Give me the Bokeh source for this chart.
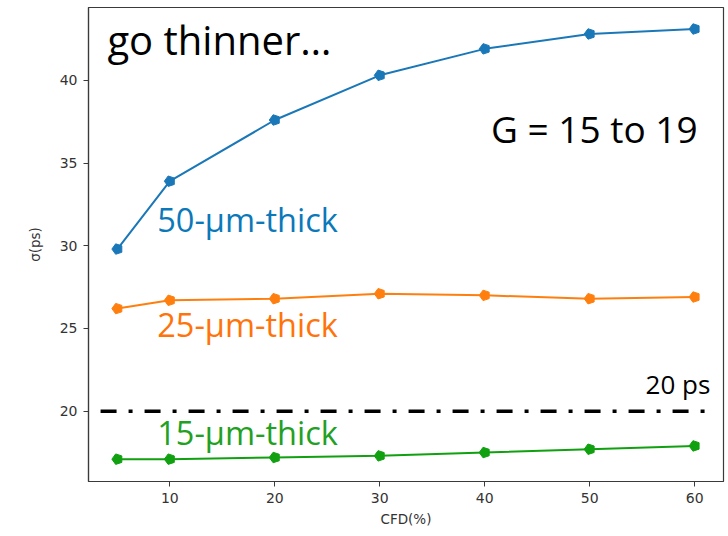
from bokeh.plotting import figure
from bokeh.embed import file_html
from bokeh.resources import INLINE
from bokeh.models import Range1d, FixedTicker
from bokeh.core.properties import value
import math

cfd = [5, 10, 20, 30, 40, 50, 60]
sigma_50um = [29.8, 33.9, 37.6, 40.3, 41.9, 42.8, 43.1]
sigma_25um = [26.2, 26.7, 26.8, 27.1, 27.0, 26.8, 26.9]
sigma_15um = [17.1, 17.1, 17.2, 17.3, 17.5, 17.7, 17.9]
x_ticks = [10, 20, 30, 40, 50, 60]
y_ticks = [20, 25, 30, 35, 40]
ref_level = 20
ref_span = [3.4, 61.5]

line_colors = ["#1a78b8", "#ff7f0e", "#10a010"]
text_colors = ["#0b78b9", "#ff740a", "#22a022"]

p = figure(width=728, height=536, output_backend="svg", toolbar_location=None,
           x_range=Range1d(2.25, 62.75), y_range=Range1d(15.75, 44.4),
           min_border_left=88, min_border_right=5, min_border_top=7, min_border_bottom=55)
p.background_fill_color = "white"
p.border_fill_color = "white"
p.grid.visible = False
p.outline_line_color = "#3a3a3a"
p.outline_line_width = 1.2

for ax in (p.xaxis, p.yaxis):
    ax.axis_line_color = "#3a3a3a"
    ax.axis_line_width = 1.2
    ax.major_tick_line_color = "#3a3a3a"
    ax.major_tick_out = 5
    ax.major_tick_in = 0
    ax.minor_tick_line_color = None
    ax.major_label_text_font = "DejaVu Sans"
    ax.major_label_text_font_size = "14px"
    ax.major_label_text_color = "#333333"
    ax.axis_label_text_font = "DejaVu Sans"
    ax.axis_label_text_font_size = "13.5px"
    ax.axis_label_text_font_style = "normal"
    ax.axis_label_text_color = "#333333"
p.xaxis.ticker = FixedTicker(ticks=x_ticks)
p.yaxis.ticker = FixedTicker(ticks=y_ticks)
p.xaxis.axis_label = "CFD(%)"
p.yaxis.axis_label = "σ(ps)"
p.xaxis.major_label_standoff = 6
p.yaxis.major_label_standoff = 6
p.xaxis.axis_label_standoff = 5
p.yaxis.axis_label_standoff = 14

series = [sigma_50um, sigma_25um, sigma_15um]
for ys, c in zip(series, line_colors):
    p.line(cfd, ys, line_color=c, line_width=2)
    try:
        p.ngon(x=cfd, y=ys, radius=5.5, radius_units="screen", n=5, angle=math.pi/2,
               fill_color=c, line_color=c)
    except Exception:
        p.scatter(cfd, ys, marker="hex", size=10, fill_color=c, line_color=c)

p.line(ref_span, [ref_level, ref_level], line_color="black", line_width=3.5,
       line_dash="16 12 4 12")

def label(x, y, t, size, color, align="left"):
    p.text(x=[x], y=[y], text=[t], text_font=value("Open Sans"), text_font_size=f"{size}px",
           text_color=color, text_align=align, text_baseline="alphabetic",
           y_offset=-round(0.42 * size))

label(4.05, 41.45, "go thinner…", 40, "black")
label(40.6, 36.14, "G = 15 to 19", 37, "black")
label(8.8, 30.72, "50-µm-thick", 32.5, text_colors[0])
label(8.8, 24.4, "25-µm-thick", 32.5, text_colors[1])
label(8.8, 17.87, "15-µm-thick", 32.5, text_colors[2])
label(61.5, 20.95, "20 ps", 26, "black", align="right")

open("out.html", "w").write(file_html(p, INLINE))
